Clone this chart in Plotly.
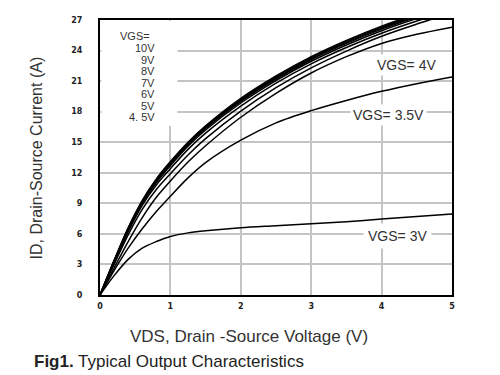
import plotly.graph_objects as go

# Drain-source voltage sample points (V)
vds = [0, 0.2, 0.4, 0.6, 0.8, 1.0, 1.25, 1.5, 2.0, 2.5, 3.0, 3.5, 4.0, 4.5, 5.0]

# Drain current (A) for each gate voltage
id_10v = [0, 3.4, 6.6, 9.3, 11.4, 13.1, 15.0, 16.6, 19.3, 21.5, 23.4, 25.0, 26.4, 27.6, 28.7]
id_9v = [0, 3.35, 6.55, 9.2, 11.3, 13.0, 14.9, 16.5, 19.2, 21.4, 23.3, 24.9, 26.3, 27.5, 28.6]
id_8v = [0, 3.3, 6.5, 9.15, 11.25, 12.95, 14.85, 16.45, 19.1, 21.3, 23.2, 24.8, 26.2, 27.4, 28.5]
id_7v = [0, 3.3, 6.45, 9.1, 11.2, 12.85, 14.75, 16.35, 19.0, 21.2, 23.1, 24.7, 26.1, 27.3, 28.4]
id_6v = [0, 3.25, 6.35, 9.0, 11.05, 12.7, 14.6, 16.2, 18.85, 21.05, 22.95, 24.55, 25.95, 27.15, 28.2]
id_5v = [0, 3.15, 6.2, 8.8, 10.8, 12.4, 14.3, 15.9, 18.55, 20.8, 22.7, 24.3, 25.7, 26.9, 28.0]
id_4_5v = [0, 3.0, 5.9, 8.4, 10.35, 11.9, 13.75, 15.35, 18.05, 20.35, 22.3, 23.95, 25.4, 26.6, 27.7]
id_4v = [0, 2.65, 5.25, 7.6, 9.6, 11.2, 13.05, 14.65, 17.45, 19.8, 21.8, 23.4, 24.7, 25.6, 26.3]
id_3_5v = [0, 2.4, 4.6, 6.5, 8.2, 9.7, 11.5, 13.0, 15.2, 16.9, 18.1, 19.1, 20.0, 20.75, 21.4]
id_3v = [0, 1.9, 3.5, 4.6, 5.25, 5.75, 6.1, 6.3, 6.6, 6.8, 7.0, 7.2, 7.45, 7.7, 7.95]

curve_names = ["10V", "9V", "8V", "7V", "6V", "5V", "4.5V", "4V", "3.5V", "3V"]
curve_values = [id_10v, id_9v, id_8v, id_7v, id_6v, id_5v, id_4_5v, id_4v, id_3_5v, id_3v]

x_ticks = [0, 1, 2, 3, 4, 5]
y_ticks = [0, 3, 6, 9, 12, 15, 18, 21, 24, 27]

legend_head = "VGS="
legend_items = ["10V", "9V", "8V", "7V", "6V", "5V", "4. 5V"]

fig = go.Figure()
for name, ys in zip(curve_names, curve_values):
    fig.add_trace(go.Scatter(
        x=vds, y=ys, mode="lines", name=name,
        line=dict(color="black", width=1.5, shape="spline", smoothing=0.9),
        hoverinfo="skip",
    ))

sans = "Liberation Sans, Arial, sans-serif"
label_font = dict(family=sans, size=14, color="#333333")
block_font = dict(family=sans, size=11, color="#333333")

annotations = []
# Left block of VGS labels
annotations.append(dict(x=0.25, y=25.4, xref="x", yref="y", text=legend_head,
                        showarrow=False, xanchor="left", yanchor="middle", font=block_font))
item_y = [24.25, 23.1, 22.0, 20.85, 19.7, 18.55, 17.45]
for txt, yy in zip(legend_items, item_y):
    annotations.append(dict(x=0.81, y=yy, xref="x", yref="y", text=txt,
                            showarrow=False, xanchor="right", yanchor="middle", font=block_font))

# Curve labels with white backgrounds
annotations.append(dict(x=4.36, y=22.6, xref="x", yref="y", text="VGS= 4V", showarrow=False,
                        font=label_font, bgcolor="white", borderpad=2))
annotations.append(dict(x=4.1, y=17.65, xref="x", yref="y", text="VGS= 3.5V", showarrow=False,
                        font=label_font, bgcolor="white", borderpad=2))
annotations.append(dict(x=4.23, y=5.75, xref="x", yref="y", text="VGS= 3V", showarrow=False,
                        font=label_font, bgcolor="white", borderpad=4))

# Axis titles and caption
annotations.append(dict(x=0.423, y=-0.15, xref="paper", yref="paper",
                        text="VDS, Drain -Source Voltage (V)", showarrow=False,
                        xanchor="center", yanchor="middle",
                        font=dict(family=sans, size=17, color="#333333")))
annotations.append(dict(x=-0.179, y=0.50, xref="paper", yref="paper",
                        text="ID, Drain-Source Current (A)", showarrow=False, textangle=-90,
                        xanchor="center", yanchor="middle",
                        font=dict(family=sans, size=16, color="#333333")))
annotations.append(dict(x=-0.193, y=-0.24, xref="paper", yref="paper",
                        text="<b>Fig1.</b> Typical Output Characteristics", showarrow=False,
                        xanchor="left", yanchor="middle",
                        font=dict(family=sans, size=17, color="#222222")))

shapes = [
    # white box behind the VGS label block, hiding gridlines
    dict(type="rect", xref="x", yref="y", x0=0.02, x1=1.1, y0=16.6, y1=26.9,
         fillcolor="white", line=dict(width=0), layer="between"),
]

tick_font = dict(family="DejaVu Sans, Verdana, sans-serif", size=8, color="#222222", weight="bold")

# The page body adds an 8px offset, so the figure is sized to compensate
fig.update_layout(
    width=492, height=367,
    margin=dict(l=92, r=48, t=8, b=80),
    paper_bgcolor="white", plot_bgcolor="white",
    showlegend=False,
    annotations=annotations,
    shapes=shapes,
    xaxis=dict(range=[0, 5], tickvals=x_ticks, ticktext=[str(v) for v in x_ticks],
               showgrid=True, gridcolor="#c4c4c4", gridwidth=1.5,
               showline=True, linecolor="black", linewidth=2, mirror=True,
               zeroline=False, ticks="", tickfont=tick_font, ticklabelstandoff=2),
    yaxis=dict(range=[0, 27], tickvals=y_ticks, ticktext=[str(v) for v in y_ticks],
               showgrid=True, gridcolor="#c4c4c4", gridwidth=1.5,
               showline=True, linecolor="black", linewidth=2, mirror=True,
               zeroline=False, ticks="", tickfont=tick_font, ticklabelstandoff=14),
)

fig.write_html("out.html")
